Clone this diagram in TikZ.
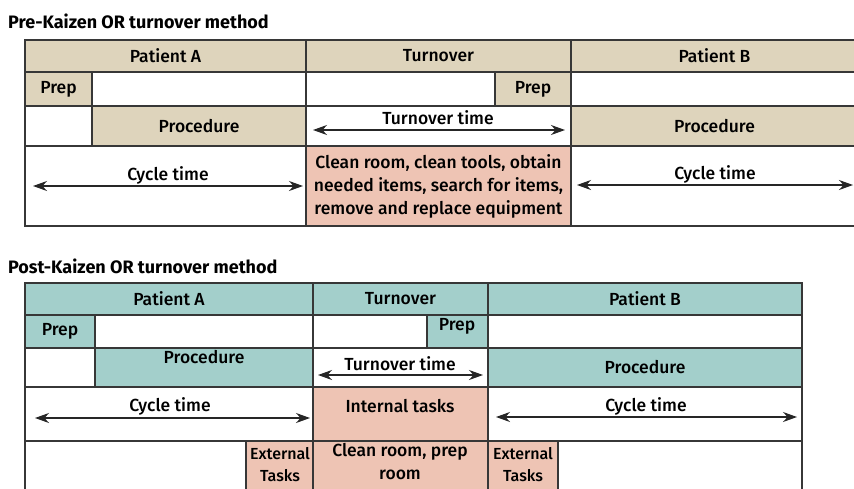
\documentclass[tikz,border=0pt]{standalone}
\usepackage{fontspec}
\setmainfont{Fira Sans}[UprightFont={* Medium}, BoldFont={* Bold}]
\usetikzlibrary{arrows.meta}
\definecolor{kzTan}{RGB}{222,212,188}
\definecolor{kzTeal}{RGB}{163,207,203}
\definecolor{kzPink}{RGB}{238,196,180}
\definecolor{kzLine}{RGB}{55,55,55}
\tikzset{
  cell/.style={draw=kzLine, line width=1.7pt, inner sep=0pt, align=center,
    font=\fontsize{17.5}{23}\selectfont},
  lbl/.style={inner sep=0pt, align=center, font=\fontsize{17.5}{23}\selectfont},
  title/.style={inner sep=0pt, anchor=west, font=\fontsize{18}{20}\selectfont\bfseries},
  span/.style={{Stealth[length=14pt,width=10pt]}-{Stealth[length=14pt,width=10pt]},
    line width=1.2pt, draw=black!85},
}
% \gridcell{name}{x1}{y1}{x2}{y2}{fill}{text}
\newcommand\gridcell[7]{%
  \node[cell, fill=#6, minimum width={(#4-#2)*1pt}, minimum height={(#5-#3)*1pt}]
    (#1) at ({(#2+#4)/2},{(#3+#5)/2}) {#7};}
\begin{document}
\begin{tikzpicture}[x=1pt,y=-1pt]
\useasboundingbox (0,0) rectangle (854,488);

% ---------------- before Kaizen ----------------
\node[title] (preTitle) at (8,21) {Pre-Kaizen OR turnover method};

\gridcell{tA}{25}{40}{306}{72}{kzTan}{Patient A}
\gridcell{tT}{306}{40}{571}{72}{kzTan}{Turnover}
\gridcell{tB}{571}{40}{858}{72}{kzTan}{Patient B}

\gridcell{tPrepA}{25}{72}{92}{106}{kzTan}{Prep}
\gridcell{tWa}{92}{72}{306}{106}{white}{}
\gridcell{tWb}{306}{72}{495}{106}{white}{}
\gridcell{tPrepB}{495}{72}{571}{106}{kzTan}{Prep}
\gridcell{tWc}{571}{72}{858}{106}{white}{}

\gridcell{tWd}{25}{106}{92}{146}{white}{}
\gridcell{tProcA}{92}{106}{306}{146}{kzTan}{Procedure}
\gridcell{tTurn}{306}{106}{571}{146}{white}{}
\gridcell{tProcB}{571}{106}{858}{146}{kzTan}{Procedure}

\gridcell{tCycA}{25}{146}{306}{226}{white}{}
\gridcell{tClean}{306}{146}{571}{226}{kzPink}{Clean room, clean tools, obtain\\needed items, search for items,\\remove and replace equipment}
\gridcell{tCycB}{571}{146}{858}{226}{white}{}

\node[lbl] (tTurnLbl) at (438,118) {Turnover time};
\coordinate (tTurnL) at (313,130);
\coordinate (tTurnR) at (565,130);
\draw[span] (tTurnL) -- (tTurnR);

\node[lbl] (tCycALbl) at (168,175) {Cycle time};
\coordinate (tCycAL) at (33,186);
\coordinate (tCycAR) at (303,186);
\draw[span] (tCycAL) -- (tCycAR);

\node[lbl] (tCycBLbl) at (715,174) {Cycle time};
\coordinate (tCycBL) at (577,185);
\coordinate (tCycBR) at (853,185);
\draw[span] (tCycBL) -- (tCycBR);

% ---------------- after Kaizen ----------------
\node[title] (postTitle) at (8,266) {Post-Kaizen OR turnover method};

\gridcell{bA}{25}{283}{313}{315}{kzTeal}{Patient A}
\gridcell{bT}{313}{283}{488}{315}{kzTeal}{Turnover}
\gridcell{bB}{488}{283}{802}{315}{kzTeal}{Patient B}

\gridcell{bPrepA}{25}{315}{95}{348}{kzTeal}{Prep}
\gridcell{bWa}{95}{315}{313}{348}{white}{}
\gridcell{bWb}{313}{315}{427}{348}{white}{}
\gridcell{bPrepB}{427}{315}{488}{348}{kzTeal}{}
\gridcell{bWc}{488}{315}{802}{348}{white}{}

\gridcell{bWd}{25}{348}{95}{387}{white}{}
\gridcell{bProcA}{95}{348}{313}{387}{kzTeal}{}
\gridcell{bTurn}{313}{348}{488}{387}{white}{}
\gridcell{bProcB}{488}{348}{802}{387}{kzTeal}{Procedure}

\gridcell{bCycA}{25}{387}{313}{441}{white}{}
\gridcell{bInt}{313}{387}{488}{441}{kzPink}{}
\gridcell{bCycB}{488}{387}{802}{441}{white}{}

\gridcell{bWe}{25}{441}{246}{496}{white}{}
\gridcell{bExtA}{246}{441}{313}{496}{kzPink}{}
\gridcell{bClean}{313}{441}{488}{496}{kzPink}{}
\gridcell{bExtB}{488}{441}{558}{496}{kzPink}{}
\gridcell{bWf}{558}{441}{802}{496}{white}{}

\node[lbl] (bPrepBLbl) at (457,326) {Prep};
\node[lbl] (bProcALbl) at (204,357) {Procedure};
\node[lbl] (bIntLbl) at (400,406) {Internal tasks};
\node[lbl, font=\fontsize{16}{22}\selectfont] (bExtALbl) at (280,465) {External\\Tasks};
\node[lbl] (bCleanLbl) at (400,462) {Clean room, prep\\room};
\node[lbl, font=\fontsize{16}{22}\selectfont] (bExtBLbl) at (523,465) {External\\Tasks};

\node[lbl] (bTurnLbl) at (400,364) {Turnover time};
\coordinate (bTurnL) at (318,375);
\coordinate (bTurnR) at (483,375);
\draw[span] (bTurnL) -- (bTurnR);

\node[lbl] (bCycALbl) at (170,406) {Cycle time};
\coordinate (bCycAL) at (35,418);
\coordinate (bCycAR) at (310,418);
\draw[span] (bCycAL) -- (bCycAR);

\node[lbl] (bCycBLbl) at (646,406) {Cycle time};
\coordinate (bCycBL) at (496,417);
\coordinate (bCycBR) at (797,417);
\draw[span] (bCycBL) -- (bCycBR);
\end{tikzpicture}
\end{document}
